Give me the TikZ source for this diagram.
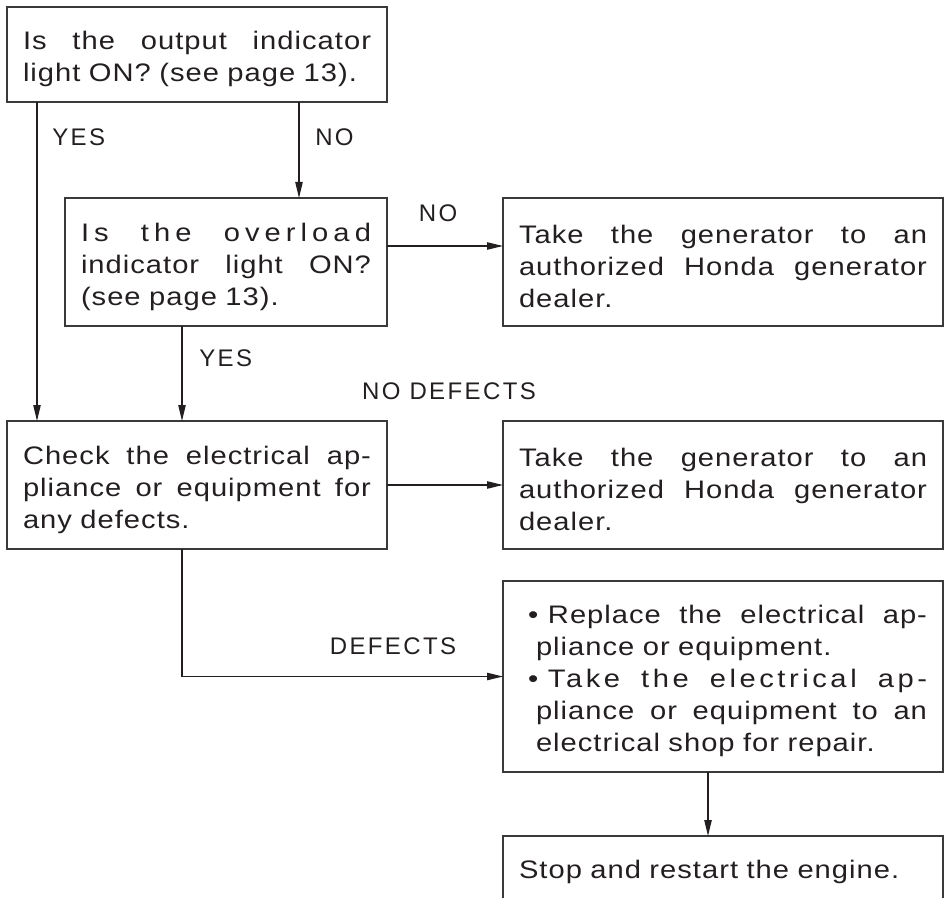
\documentclass[tikz,border=0pt]{standalone}
\usepackage{fontspec}
\setmainfont{Liberation Sans}[LetterSpace=4, FakeStretch=1.15]
\newfontfamily\labelfont{Liberation Sans}[LetterSpace=10]
\usepackage{xcolor}
\usetikzlibrary{arrows.meta}

\definecolor{inkdark}{HTML}{231F20}
\definecolor{framegray}{HTML}{3A3A3A}

% justified line, bullet line, hanging line (words split by \hfill)
\newcommand{\fullline}[1]{\makebox[\linewidth][s]{#1}}
\newcommand{\bulletline}[1]{\hspace*{6.75pt}\makebox[15pt][l]{\textbullet}\makebox[\dimexpr\linewidth-21.75pt][s]{#1}}
\newcommand{\hangline}[1]{\hspace*{12.75pt}\makebox[\dimexpr\linewidth-12.75pt][s]{#1}}
\newcommand{\spreadout}[2]{{\addfontfeature{LetterSpace=#1}#2}}

\begin{document}
\begin{tikzpicture}[x=0.75pt, y=-0.75pt,
    every node/.style={font=\fontsize{19pt}{24pt}\selectfont, text=inkdark},
    stepbox/.style={draw=framegray, line width=1.4pt, anchor=north west, align=left,
        inner xsep=12pt, inner ysep=0pt, outer sep=0pt,
        execute at begin node={\rule{0pt}{20.5pt}}},
    flowlabel/.style={inner sep=0pt, font=\labelfont\fontsize{18pt}{24pt}\selectfont},
    arr/.style={-{Triangle[length=12pt,width=5.5pt]}, line width=1pt, draw=inkdark}]
    \useasboundingbox (0,0) rectangle (945,898);

    % Output indicator question
    \node[stepbox, text width=261pt, minimum height=71.25pt] (output) at (7,7)
        {\fullline{Is\hfill the\hfill output\hfill indicator}\\ light ON? (see page 13).};

    % Overload indicator question
    \node[stepbox, text width=217.5pt, minimum height=96pt] (overload) at (65,198)
        {\fullline{\spreadout{20}{Is\hfill the\hfill overload}}\\
         \fullline{indicator\hfill light\hfill ON?}\\ (see page 13).};

    % Dealer (no overload)
    \node[stepbox, text width=306pt, minimum height=96pt] (dealerA) at (503,198)
        {\fullline{Take\hfill the\hfill generator\hfill to\hfill an}\\
         \fullline{authorized\hfill Honda\hfill generator}\\ dealer.};

    % Check appliance
    \node[stepbox, text width=261pt, minimum height=96pt] (check) at (7,421)
        {\fullline{Check\hfill the\hfill electrical\hfill ap-}\\
         \fullline{pliance\hfill or\hfill equipment\hfill for}\\ any defects.};

    % Dealer (no defects)
    \node[stepbox, text width=306pt, minimum height=96pt] (dealerB) at (503,421)
        {\fullline{Take\hfill the\hfill generator\hfill to\hfill an}\\
         \fullline{authorized\hfill Honda\hfill generator}\\ dealer.};

    % Replace or repair
    \node[stepbox, text width=306pt, minimum height=143.25pt] (repair) at (503,581)
        {\bulletline{Replace\hfill the\hfill electrical\hfill ap-}\\
         \hspace*{12.75pt}pliance or equipment.\\
         \bulletline{\spreadout{14}{Take\hfill the\hfill electrical\hfill ap-}}\\
         \hangline{pliance\hfill or\hfill equipment\hfill to\hfill an}\\
         \hspace*{12.75pt}electrical shop for repair.};

    % Restart (open at the bottom)
    \node[stepbox, draw=none, text width=306pt, minimum height=46.5pt] (restart) at (503,836)
        {Stop and restart the engine.};
    \draw[framegray, line width=1.4pt] (restart.south west) |- (restart.north east) -- (restart.south east);

    % Labels
    \node[flowlabel, anchor=west] (yesA) at (52,137) {YES};
    \node[flowlabel, anchor=west] (noA) at (315,137) {NO};
    \node[flowlabel] (noB) at (438,213) {NO};
    \node[flowlabel, anchor=west] (yesB) at (199,358) {YES};
    \node[flowlabel] (nodef) at (449,391) {NO DEFECTS};
    \node[flowlabel] (defects) at (393,646) {DEFECTS};

    % Arrows
    \coordinate (colA) at (37,0);
    \coordinate (colB) at (299,0);
    \coordinate (colC) at (182,0);
    \coordinate (colD) at (708,0);
    \coordinate (rowA) at (0,246);
    \draw[arr] (output.south -| colA) -- (check.north -| colA);
    \draw[arr] (output.south -| colB) -- (overload.north -| colB);
    \draw[arr] (overload.east |- rowA) -- (dealerA.west |- rowA);
    \draw[arr] (overload.south -| colC) -- (check.north -| colC);
    \draw[arr] (check.east) -- (dealerB.west);
    \draw[arr] (check.south -| colC) |- (repair.west);
    \draw[arr] (repair.south -| colD) -- (restart.north -| colD);
\end{tikzpicture}
\end{document}
